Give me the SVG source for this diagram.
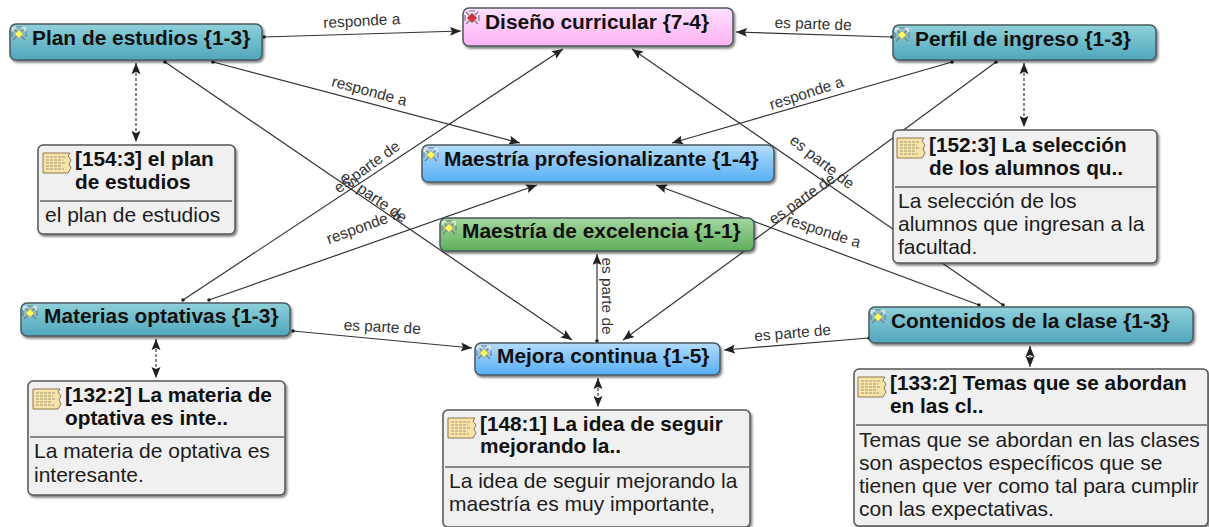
<svg xmlns="http://www.w3.org/2000/svg" xmlns:xlink="http://www.w3.org/1999/xlink" width="1209" height="527" viewBox="0 0 1209 527">
<style>
text{font-family:"Liberation Sans",Arial,sans-serif;fill:#111}
.t{font-size:20.9px;font-weight:bold}
.m{font-size:20.8px;font-weight:bold}
.b{font-size:21px;fill:#1c1c1c}
.l{font-size:15.4px;fill:#333}
.c{stroke:#333;stroke-width:1.2;fill:none;marker-end:url(#arr);marker-start:url(#dot)}
.d{stroke:#222;stroke-width:1.1;fill:none;stroke-dasharray:3 2;marker-end:url(#arr);marker-start:url(#arr2)}
.n{stroke:#4a5a60;stroke-width:1.5;filter:url(#sh)}
.memo{fill:#f0f0f0;stroke:#555;stroke-width:1.5;filter:url(#sh)}
.div{stroke:#666;stroke-width:1.3}
</style>
<defs>
<linearGradient id="teal" x1="0" y1="0" x2="0" y2="1"><stop offset="0" stop-color="#8fd0da"/><stop offset="1" stop-color="#4fa6bb"/></linearGradient>
<linearGradient id="blue" x1="0" y1="0" x2="0" y2="1"><stop offset="0" stop-color="#b4dcfb"/><stop offset="1" stop-color="#56aef4"/></linearGradient>
<linearGradient id="green" x1="0" y1="0" x2="0" y2="1"><stop offset="0" stop-color="#a5d79f"/><stop offset="1" stop-color="#5fae5c"/></linearGradient>
<linearGradient id="pink" x1="0" y1="0" x2="0" y2="1"><stop offset="0" stop-color="#ffe0ff"/><stop offset="1" stop-color="#fdb2f2"/></linearGradient>
<filter id="sh" x="-5%" y="-10%" width="110%" height="125%"><feDropShadow dx="1.5" dy="2" stdDeviation="1" flood-color="#000" flood-opacity="0.5"/></filter>
<marker id="arr" markerUnits="userSpaceOnUse" markerWidth="12" markerHeight="10" refX="11" refY="4.5" orient="auto"><path d="M0 0L11 4.5L0 9L2 4.5Z" fill="#222"/></marker>
<marker id="arr2" markerUnits="userSpaceOnUse" markerWidth="12" markerHeight="10" refX="1" refY="4.5" orient="auto"><path d="M12 0L1 4.5L12 9L10 4.5Z" fill="#222"/></marker>
<marker id="dot" markerUnits="userSpaceOnUse" markerWidth="5" markerHeight="5" refX="2.5" refY="2.5"><circle cx="2.5" cy="2.5" r="1.8" fill="#222"/></marker>
<g id="ico"><path d="M1 1L13 13M13 1L1 13M4 0L10 0M0 4V10M14 4V10" stroke="#777" stroke-width="1.1"/><path d="M7 2.500L11.500 7L7 11.500L2.500 7Z" fill="#ffff55" stroke="#999" stroke-width="1"/><path d="M0 0H5L0 5ZM14 0H9L14 5Z" fill="#eee" opacity=".8"/></g>
<g id="icor"><path d="M1 1L13 13M13 1L1 13M4 0L10 0M0 4V10M14 4V10" stroke="#777" stroke-width="1.1"/><path d="M7 2L12 7L7 12L2 7Z" fill="#d8303a" stroke="#999" stroke-width="1"/></g>
<g id="note"><path d="M0 0H27L25 3L28 7L26 11L28 15L25 20H0Z" fill="#f8e3a8" stroke="#8a7a50" stroke-width="1"/><path d="M3 4H22M3 7H20M3 10H23M3 13H18M3 16H21" stroke="#a09676" stroke-width="1" stroke-dasharray="3 1"/></g>
</defs>
<rect width="1209" height="527" fill="#fff"/>
<g id="connectors">
<line class="c" x1="264" y1="37" x2="461" y2="31"/>
<line class="c" x1="213" y1="62" x2="520" y2="143"/>
<line class="c" x1="165" y1="62" x2="572" y2="340"/>
<line class="d" x1="136" y1="63" x2="136" y2="142"/>
<line class="c" x1="892" y1="37" x2="736" y2="32"/>
<line class="c" x1="952" y1="62" x2="672" y2="143"/>
<line class="c" x1="996" y1="62" x2="750" y2="243" style="marker-end:none"/>
<line class="d" x1="1024" y1="63" x2="1024" y2="127"/>
<line class="c" x1="1003" y1="305" x2="632" y2="49"/>
<line class="c" x1="979" y1="305" x2="656" y2="185"/>
<line class="c" x1="869" y1="338" x2="724" y2="350"/>
<line class="d" x1="1030" y1="346" x2="1030" y2="367"/>
<line class="c" x1="183" y1="300" x2="563" y2="49"/>
<line class="c" x1="209" y1="300" x2="537" y2="185"/>
<line class="c" x1="293" y1="331" x2="472" y2="348"/>
<line class="d" x1="156" y1="339" x2="156" y2="378"/>
<line class="c" x1="597" y1="341" x2="597" y2="254"/>
<line class="c" x1="750" y1="247" x2="623" y2="340"/>
<line class="d" x1="598" y1="378" x2="598" y2="407"/>
<g>
<text class="l" transform="translate(362,26) rotate(-3)" text-anchor="middle">responde a</text>
<text class="l" transform="translate(368,96) rotate(15)" text-anchor="middle">responde a</text>
<text class="l" transform="translate(371,201) rotate(35)" text-anchor="middle">es parte de</text>
<text class="l" transform="translate(813,29) rotate(2)" text-anchor="middle">es parte de</text>
<text class="l" transform="translate(808,98) rotate(-18)" text-anchor="middle">responde a</text>
<text class="l" transform="translate(819,166) rotate(38)" text-anchor="middle">es parte de</text>
<text class="l" transform="translate(805,203) rotate(-35)" text-anchor="middle">es parte de</text>
<text class="l" transform="translate(822,236) rotate(18)" text-anchor="middle">responde a</text>
<text class="l" transform="translate(793,338) rotate(-5)" text-anchor="middle">es parte de</text>
<text class="l" transform="translate(370,171) rotate(-36)" text-anchor="middle">es parte de</text>
<text class="l" transform="translate(365,231) rotate(-20)" text-anchor="middle">responde a</text>
<text class="l" transform="translate(382,332) rotate(3)" text-anchor="middle">es parte de</text>
<text class="l" transform="translate(602,296) rotate(90)" text-anchor="middle">es parte de</text>
</g>
</g>
<g id="node-plan"><rect class="n" x="10" y="24" width="252" height="36" rx="6" fill="url(#teal)"/><use href="#ico" x="12" y="27"/><text class="t" x="32" y="45">Plan de estudios {1-3}</text></g>
<g id="node-diseno"><rect class="n" x="463" y="8" width="270" height="38" rx="6" fill="url(#pink)"/><use href="#icor" x="465" y="11"/><text class="t" x="485" y="29">Diseño curricular {7-4}</text></g>
<g id="node-perfil"><rect class="n" x="893" y="25" width="263" height="35" rx="6" fill="url(#teal)"/><use href="#ico" x="895" y="28"/><text class="t" x="915" y="46">Perfil de ingreso {1-3}</text></g>
<g id="node-profesionalizante"><rect class="n" x="422" y="145" width="352" height="37" rx="6" fill="url(#blue)"/><use href="#ico" x="424" y="148"/><text class="t" x="444" y="166">Maestría profesionalizante {1-4}</text></g>
<g id="node-excelencia"><rect class="n" x="440" y="218" width="314" height="33" rx="6" fill="url(#green)"/><use href="#ico" x="442" y="221"/><text class="t" x="462" y="238">Maestría de excelencia {1-1}</text></g>
<g id="node-materias"><rect class="n" x="21" y="303" width="269" height="33" rx="6" fill="url(#teal)"/><use href="#ico" x="23" y="306"/><text class="t" x="44" y="323">Materias optativas {1-3}</text></g>
<g id="node-mejora"><rect class="n" x="475" y="343" width="245" height="32" rx="6" fill="url(#blue)"/><use href="#ico" x="477" y="346"/><text class="t" x="497" y="363">Mejora continua {1-5}</text></g>
<g id="node-contenidos"><rect class="n" x="869" y="307" width="324" height="36" rx="6" fill="url(#teal)"/><use href="#ico" x="871" y="310"/><text class="t" x="891" y="328">Contenidos de la clase {1-3}</text></g>
<g id="memo-154"><rect class="memo" x="38" y="145" width="197" height="89" rx="5"/><line class="div" x1="40" y1="201" x2="232" y2="201"/><use href="#note" x="43" y="153"/><text class="m" x="75" y="166">[154:3] el plan</text><text class="m" x="75" y="189">de estudios</text><text class="b" x="45" y="222">el plan de estudios</text></g>
<g id="memo-152"><rect class="memo" x="893" y="130" width="264" height="133" rx="5"/><line class="div" x1="895" y1="187" x2="1156" y2="187"/><use href="#note" x="897" y="138"/><text class="m" x="929" y="151.500">[152:3] La selección</text><text class="m" x="929" y="174.500">de los alumnos qu..</text><text class="b" x="898" y="208">La selección de los</text><text class="b" x="898" y="231">alumnos que ingresan a la</text><text class="b" x="898" y="253.500">facultad.</text></g>
<g id="memo-132"><rect class="memo" x="28" y="381" width="257" height="114" rx="5"/><line class="div" x1="30" y1="437" x2="284" y2="437"/><use href="#note" x="33" y="389"/><text class="m" x="65" y="402">[132:2] La materia de</text><text class="m" x="65" y="424.500">optativa es inte..</text><text class="b" x="34" y="458">La materia de optativa es</text><text class="b" x="34" y="482">interesante.</text></g>
<g id="memo-148"><rect class="memo" x="443" y="410" width="307" height="117" rx="5"/><line class="div" x1="445" y1="467" x2="749" y2="467"/><use href="#note" x="448" y="418"/><text class="m" x="480" y="430.500">[148:1] La idea de seguir</text><text class="m" x="480" y="453">mejorando la..</text><text class="b" x="449" y="487.500">La idea de seguir mejorando la</text><text class="b" x="449" y="511">maestría es muy importante,</text></g>
<g id="memo-133"><rect class="memo" x="854" y="369" width="354" height="157" rx="5"/><line class="div" x1="856" y1="425" x2="1207" y2="425"/><use href="#note" x="858" y="377"/><text class="m" x="890" y="389.500">[133:2] Temas que se abordan</text><text class="m" x="890" y="413">en las cl..</text><text class="b" x="859" y="447">Temas que se abordan en las clases</text><text class="b" x="859" y="470">son aspectos específicos que se</text><text class="b" x="859" y="493">tienen que ver como tal para cumplir</text><text class="b" x="859" y="516">con las expectativas.</text></g>
</svg>
